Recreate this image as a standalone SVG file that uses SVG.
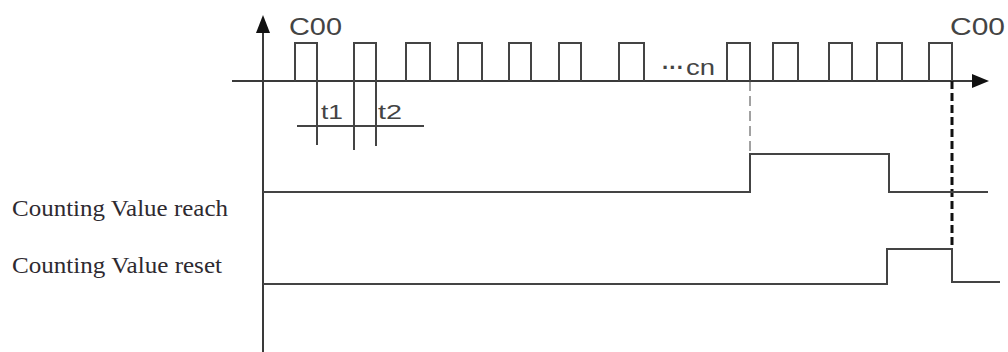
<svg xmlns="http://www.w3.org/2000/svg" width="1008" height="352" viewBox="0 0 1008 352">
<style>
.ln{fill:none;stroke:#3a3a3a;stroke-width:2}
.sig{fill:none;stroke:#444;stroke-width:2}
.sans{font-family:"Liberation Sans",Arial,sans-serif;fill:#444}
.serif{font-family:"Liberation Serif","Times New Roman",serif;fill:#2e2a30;font-size:23px}
</style>
<rect width="1008" height="352" fill="#fff"/>
<g id="axes">
<line x1="263" y1="352" x2="263" y2="32" class="ln"/>
<polygon points="263,15 256,33 270,33" fill="#111"/>
<line x1="232" y1="81" x2="974" y2="81" class="ln"/>
<polygon points="989,81 972,74 972,88" fill="#111"/>
</g>
<g id="pulses">
<path class="sig" d="M295,81 V43 H317 V81 M354,81 V43 H376 V81 M406,81 V43 H430 V81 M458,81 V43 H482 V81 M509,81 V43 H531 V81 M559,81 V43 H581 V81 M619,81 V43 H644 V81 M727,81 V43 H750 V81 M773,81 V43 H798 V81 M829,81 V43 H852 V81 M877,81 V43 H902 V81 M929,81 V43 H952 V81"/>
</g>
<g id="timing">
<line x1="317" y1="81" x2="317" y2="145" class="sig"/>
<line x1="354" y1="81" x2="354" y2="150" class="sig"/>
<line x1="376" y1="81" x2="376" y2="146" class="sig"/>
<line x1="297" y1="126" x2="424" y2="126" class="sig"/>
<text class="sans" x="321" y="119" font-size="21" textLength="22" lengthAdjust="spacingAndGlyphs">t1</text>
<text class="sans" x="378" y="119" font-size="21" textLength="24" lengthAdjust="spacingAndGlyphs">t2</text>
</g>
<g id="labels">
<text class="sans" x="289" y="35" font-size="24" textLength="53" lengthAdjust="spacingAndGlyphs">C00</text>
<text class="sans" x="950" y="35" font-size="24" textLength="55" lengthAdjust="spacingAndGlyphs">C00</text>
<text class="sans" x="662" y="75" font-size="22"><tspan font-weight="bold">···</tspan><tspan x="686" textLength="29" lengthAdjust="spacingAndGlyphs">cn</tspan></text>
</g>
<g id="connectors">
<line x1="750" y1="81" x2="750" y2="154" stroke="#444" stroke-width="1" stroke-dasharray="10,5"/>
<line x1="952" y1="81" x2="952" y2="249" stroke="#111" stroke-width="3" stroke-dasharray="8,4"/>
</g>
<g id="reach">
<path class="sig" d="M263,192 H750 V154 H889 V192 H988"/>
<text class="serif" x="12" y="216" textLength="216" lengthAdjust="spacingAndGlyphs">Counting Value reach</text>
</g>
<g id="reset">
<path class="sig" d="M263,284 H887 V249 H952 V282 H1000"/>
<text class="serif" x="12" y="273" textLength="210" lengthAdjust="spacingAndGlyphs">Counting Value reset</text>
</g>
</svg>
